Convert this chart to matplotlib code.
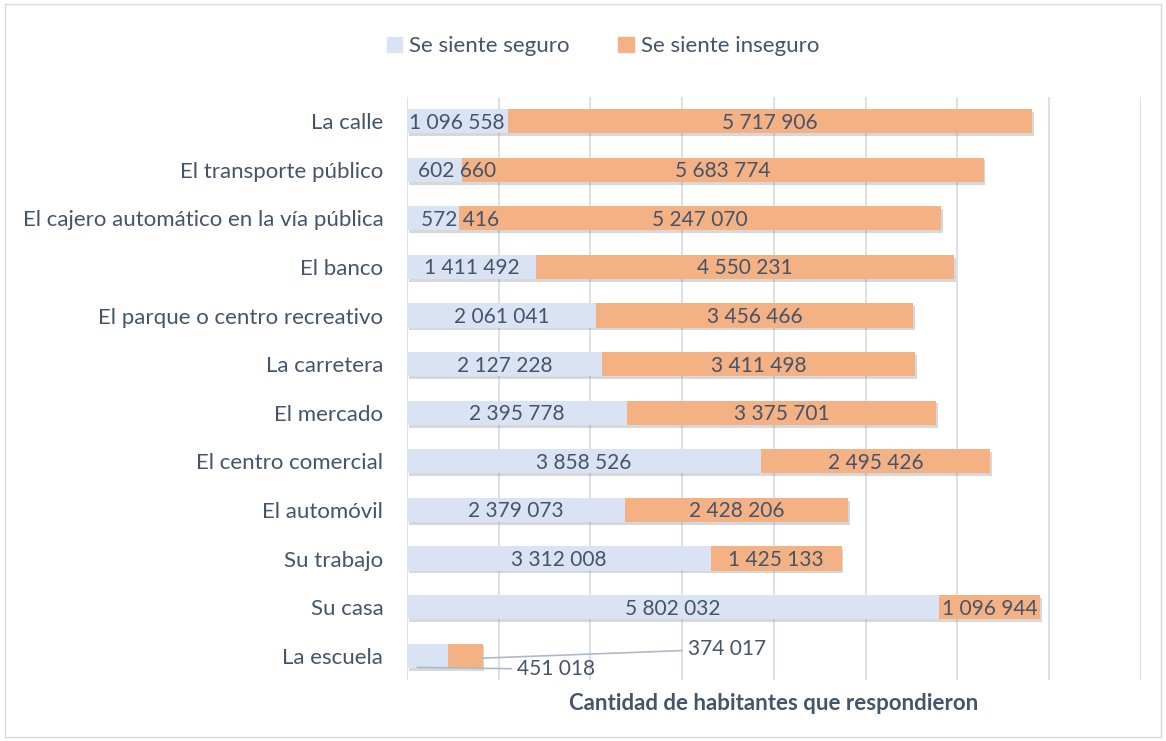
import matplotlib.pyplot as plt
import matplotlib.patheffects as pe
from matplotlib.patches import Rectangle, Patch
import numpy as np

categories = ["La calle", "El transporte público", "El cajero automático en la vía pública",
              "El banco", "El parque o centro recreativo", "La carretera", "El mercado",
              "El centro comercial", "El automóvil", "Su trabajo", "Su casa", "La escuela"]
seguro = [1096558, 602660, 572416, 1411492, 2061041, 2127228, 2395778,
          3858526, 2379073, 3312008, 5802032, 451018]
inseguro = [5717906, 5683774, 5247070, 4550231, 3456466, 3411498, 3375701,
            2495426, 2428206, 1425133, 1096944, 374017]

plt.rcParams['font.family'] = ['Lato', 'DejaVu Sans']
txt = '#44546A'
c_seg = '#DAE3F3'
c_ins = '#F4B183'

def fmt(v):
    return f"{v:,}".replace(",", " ")

fig = plt.figure(figsize=(11.66, 7.41), dpi=100)
fig.patches.append(Rectangle((0.004, 0.006), 0.992, 0.988, transform=fig.transFigure,
                             fill=False, edgecolor='#D9D9D9', linewidth=1))
ax = fig.add_axes([0.349, 0.0823, 0.6295, 0.787])

y = np.arange(len(categories))
shadow = [pe.SimplePatchShadow(offset=(1.2, -2), shadow_rgbFace='#7f7f7f', alpha=0.3), pe.Normal()]
b1 = ax.barh(y, seguro, height=0.5, color=c_seg, zorder=3)
b2 = ax.barh(y, inseguro, left=seguro, height=0.5, color=c_ins, zorder=3)
for b in list(b1) + list(b2):
    b.set_path_effects(shadow)

# label positions: centred in each segment, a few nudged like the original
shift_seg = {1: 240000, 2: 290000}
fs = 15
for i in range(len(categories) - 1):
    xs = seguro[i] / 2 + shift_seg.get(i, 0)
    ax.text(xs, i + 0.03, fmt(seguro[i]), ha='center', va='center', color=txt, fontsize=fs, zorder=5)
    xi = seguro[i] + inseguro[i] / 2
    ax.text(xi, i + 0.03, fmt(inseguro[i]), ha='center', va='center', color=txt, fontsize=fs, zorder=5)

i = len(categories) - 1
ax.annotate(fmt(seguro[i]), xy=(seguro[i] * 0.25, i + 0.24), xytext=(1200000, i + 0.28),
            ha='left', va='center', color=txt, fontsize=fs,
            arrowprops=dict(arrowstyle='-', color='#ADB9CA', lw=1.2, shrinkA=2, shrinkB=0))
ax.annotate(fmt(inseguro[i]), xy=(seguro[i] + inseguro[i], i + 0.05), xytext=(3060000, i - 0.14),
            ha='left', va='center', color=txt, fontsize=fs,
            arrowprops=dict(arrowstyle='-', color='#ADB9CA', lw=1.2, shrinkA=2, shrinkB=0))

ax.set_yticks(y)
ax.set_yticklabels(categories, fontsize=16, color=txt)
ax.set_ylim(len(categories) - 0.5, -0.5)
ax.set_xlim(0, 8000000)
ax.set_xticks(np.arange(0, 8000001, 1000000))
ax.set_xticklabels([])
ax.tick_params(length=0)
ax.tick_params(axis='y', pad=17)
ax.grid(axis='x', color='#D9DEE7', linewidth=1.3, zorder=0)
for s in ax.spines.values():
    s.set_visible(False)
ax.set_xlabel('Cantidad de habitantes que respondieron', fontsize=16, fontweight='bold',
              color=txt, labelpad=6)

handles = [Patch(color=c_seg, label='Se siente seguro'), Patch(color=c_ins, label='Se siente inseguro')]
fig.legend(handles=handles, loc='upper center', bbox_to_anchor=(0.517, 0.978), ncol=2,
           frameon=False, fontsize=16, handlelength=0.7, handleheight=0.7,
           handletextpad=0.3, columnspacing=2.2, labelcolor=txt)

fig.savefig('out.png', dpi=100)
